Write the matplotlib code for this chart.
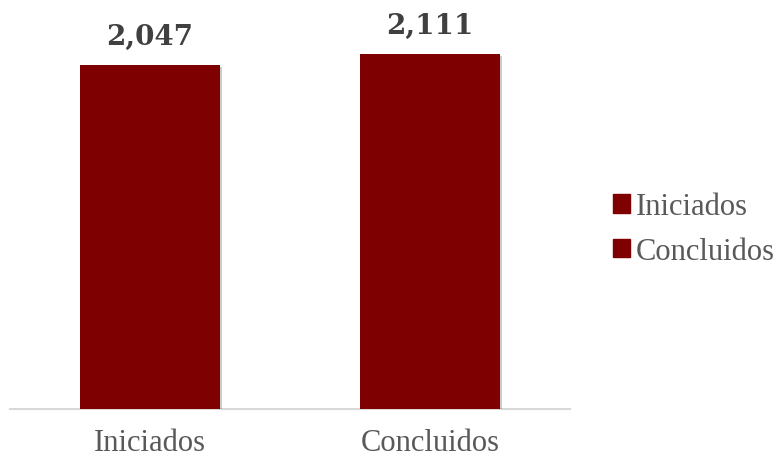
import matplotlib.pyplot as plt
import matplotlib.patheffects as pe

categories = ["Iniciados", "Concluidos"]
values = [2047, 2111]
value_labels = ["2,047", "2,111"]
bar_color = "#7F0000"

fig = plt.figure(figsize=(7.81, 4.60), dpi=100)
ax = fig.add_axes([10 / 781, 50 / 460, 560 / 781, 410 / 460])

bars = ax.bar(range(len(categories)), values, width=0.5, color=bar_color, zorder=3)
for b in bars:
    b.set_path_effects([pe.SimplePatchShadow(offset=(1.5, -1.5), shadow_rgbFace="#000000",
                                             alpha=0.2), pe.Normal()])

for i, (v, lab) in enumerate(zip(values, value_labels)):
    ax.annotate(lab, (i, v), xytext=(0, 11), textcoords="offset points",
                ha="center", va="bottom", fontsize=20, fontweight="bold",
                family="DejaVu Serif", color="#404040")

ax.set_xlim(-0.5, 1.5)
ax.set_ylim(0, 2440)
ax.set_xticks(range(len(categories)))
ax.set_xticklabels(categories, family="Liberation Serif", fontsize=22, color="#595959")
ax.tick_params(axis="x", length=0, pad=14)
ax.set_yticks([])
for s in ["top", "right", "left"]:
    ax.spines[s].set_visible(False)
ax.spines["bottom"].set_color("#D9D9D9")
ax.spines["bottom"].set_linewidth(1.5)

# legend: both series use the same colour
handles = [plt.Rectangle((0, 0), 1, 1, color=bar_color) for _ in categories]
fig.legend(handles, categories, loc="center left", bbox_to_anchor=(613 / 781, 1 - 230 / 460),
           frameon=False, prop={"family": "Liberation Serif", "size": 22},
           labelcolor="#595959", handlelength=0.55, handleheight=0.55,
           handletextpad=0.2, labelspacing=0.5, borderaxespad=0, borderpad=0)

fig.savefig("out.png", dpi=100)
